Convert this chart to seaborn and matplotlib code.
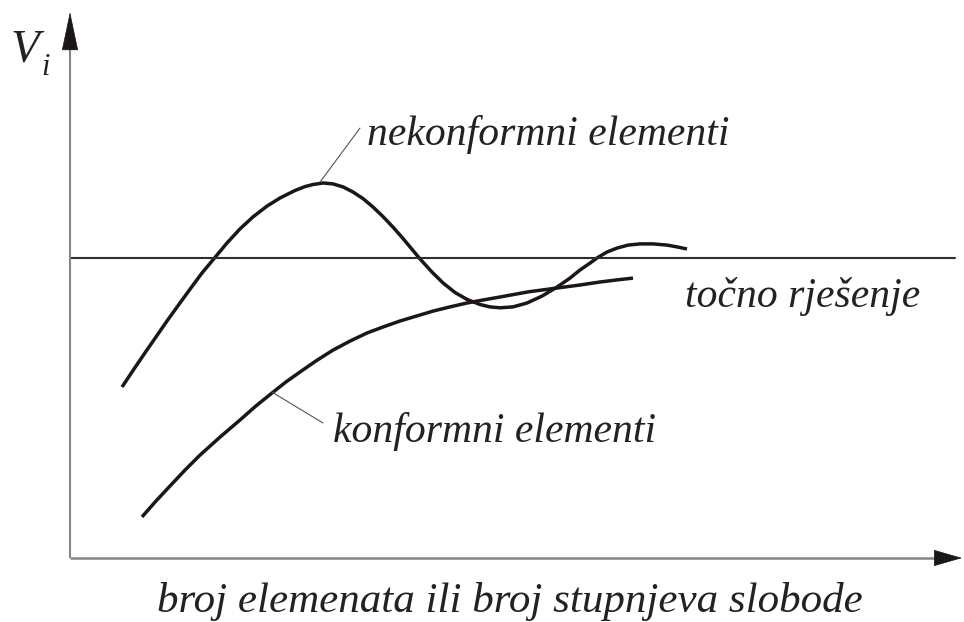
import matplotlib
matplotlib.use("Agg")
import matplotlib.pyplot as plt
import seaborn as sns
import pandas as pd

# ---- data (x: broj elemenata, y: V_i, exact solution = 1.0) ----
nek_x = [0.52, 0.63, 0.75, 0.86, 0.97, 1.08, 1.20, 1.32, 1.45, 1.57,
         1.70, 1.83, 1.97, 2.10, 2.25, 2.35, 2.43, 2.53, 2.63, 2.73,
         2.83, 2.93, 3.03, 3.13, 3.23, 3.33, 3.40, 3.50, 3.62, 3.73,
         3.85, 3.97, 4.10, 4.20, 4.30, 4.43, 4.57, 4.72, 4.87, 5.00,
         5.10, 5.20, 5.27, 5.37, 5.47, 5.58, 5.70, 5.83, 5.97, 6.07,
         6.17]
nek_y = [0.570, 0.625, 0.684, 0.737, 0.790, 0.841, 0.896, 0.950, 1.002, 1.050,
         1.097, 1.137, 1.173, 1.200, 1.225, 1.238, 1.245, 1.250, 1.247, 1.237,
         1.220, 1.198, 1.170, 1.138, 1.103, 1.065, 1.037, 0.997, 0.953, 0.917,
         0.885, 0.862, 0.845, 0.837, 0.834, 0.837, 0.850, 0.873, 0.903, 0.933,
         0.960, 0.983, 1.000, 1.020, 1.033, 1.043, 1.047, 1.047, 1.043, 1.037,
         1.030]
kon_x = [0.72, 0.86, 1.00, 1.15, 1.30, 1.50, 1.70, 1.86, 2.02, 2.16,
         2.30, 2.46, 2.63, 2.80, 2.97, 3.13, 3.30, 3.47, 3.63, 3.80,
         3.97, 4.13, 4.30, 4.58, 4.87, 5.10, 5.30, 5.47, 5.63]
kon_y = [0.137, 0.190, 0.240, 0.293, 0.343, 0.403, 0.460, 0.507, 0.550, 0.587,
         0.620, 0.657, 0.693, 0.723, 0.750, 0.770, 0.790, 0.807, 0.823, 0.837,
         0.850, 0.860, 0.870, 0.887, 0.900, 0.910, 0.920, 0.927, 0.933]
exact_value = 1.0

label_nek = "nekonformni elementi"
label_kon = "konformni elementi"
label_exact = "točno rješenje"
x_label = "broj elemenata ili broj stupnjeva slobode"
y_main, y_sub = "V", "i"

sns.set_theme(style="white")
plt.rcParams["font.family"] = ["Liberation Serif", "DejaVu Serif"]

W, H = 964, 622
fig = plt.figure(figsize=(W / 100, H / 100), dpi=100)
fig.patch.set_facecolor("white")
ax0, ay0 = 70, 558  # origin in pixels (top-left based)
ax = fig.add_axes([ax0 / W, (H - ay0) / H, (W - ax0) / W, ay0 / H])
ax.set_xlim(0, (W - ax0) / 100)
ax.set_ylim(0, ay0 / 300)
ax.axis("off")

df_n = pd.DataFrame({"x": nek_x, "y": nek_y})
df_k = pd.DataFrame({"x": kon_x, "y": kon_y})
curve_col = "#1c1614"
sns.lineplot(data=df_n, x="x", y="y", ax=ax, color=curve_col, lw=2.5,
             sort=False, solid_capstyle="butt", solid_joinstyle="round")
sns.lineplot(data=df_k, x="x", y="y", ax=ax, color=curve_col, lw=2.5,
             sort=False, solid_capstyle="butt", solid_joinstyle="round")

# exact solution line
ax.axhline(exact_value, xmin=0, xmax=(955 - ax0) / (W - ax0), color="#2e2e2e", lw=1.5)

# axes with arrows
axis_col = "#858585"
ytip = (ay0 - 12) / ay0
ybase = (ay0 - 48) / ay0
xtip = (962 - ax0) / (W - ax0)
xbase = (937 - ax0) / (W - ax0)
ax.plot([0, 0], [0, ybase], transform=ax.transAxes, color=axis_col, lw=1.5,
        clip_on=False, solid_capstyle="butt")
ax.plot([0, xbase], [0, 0], transform=ax.transAxes, color=axis_col, lw=1.8,
        clip_on=False, solid_capstyle="butt")
ax.annotate("", xy=(0, ytip), xytext=(0, ybase), xycoords="axes fraction",
            arrowprops=dict(arrowstyle="-|>,head_length=2.6,head_width=0.55",
                            mutation_scale=10, color="#1a1716", lw=0.5,
                            shrinkA=0, shrinkB=0))
ax.annotate("", xy=(xtip, 0), xytext=(xbase, 0), xycoords="axes fraction",
            arrowprops=dict(arrowstyle="-|>,head_length=1.9,head_width=0.55",
                            mutation_scale=10, color="#1a1716", lw=0.5,
                            shrinkA=0, shrinkB=0))

# annotations with leader lines
txt_col = "#222222"
fs = 30
ax.plot([2.50, 2.90], [1.253, 1.433], color="#555555", lw=0.8)
ax.text(2.97, 1.377, label_nek, fontsize=fs, style="italic", color=txt_col,
        ha="left", va="baseline")
ax.plot([2.02, 2.53], [0.553, 0.45], color="#555555", lw=0.8)
ax.text(2.63, 0.387, label_kon, fontsize=fs, style="italic", color=txt_col,
        ha="left", va="baseline")
ax.text(6.15, 0.837, label_exact, fontsize=fs, style="italic", color=txt_col,
        ha="left", va="baseline")

# axis labels
fig.text(510 / W, (H - 612) / H, x_label, fontsize=31, style="italic",
         color=txt_col, ha="center", va="baseline")
fig.text(11 / W, (H - 62) / H, y_main, fontsize=34, style="italic",
         color=txt_col, ha="left", va="baseline")
fig.text(41 / W, (H - 75) / H, y_sub, fontsize=22, style="italic",
         color=txt_col, ha="left", va="baseline")

fig.savefig("out.png", dpi=100, facecolor="white")
